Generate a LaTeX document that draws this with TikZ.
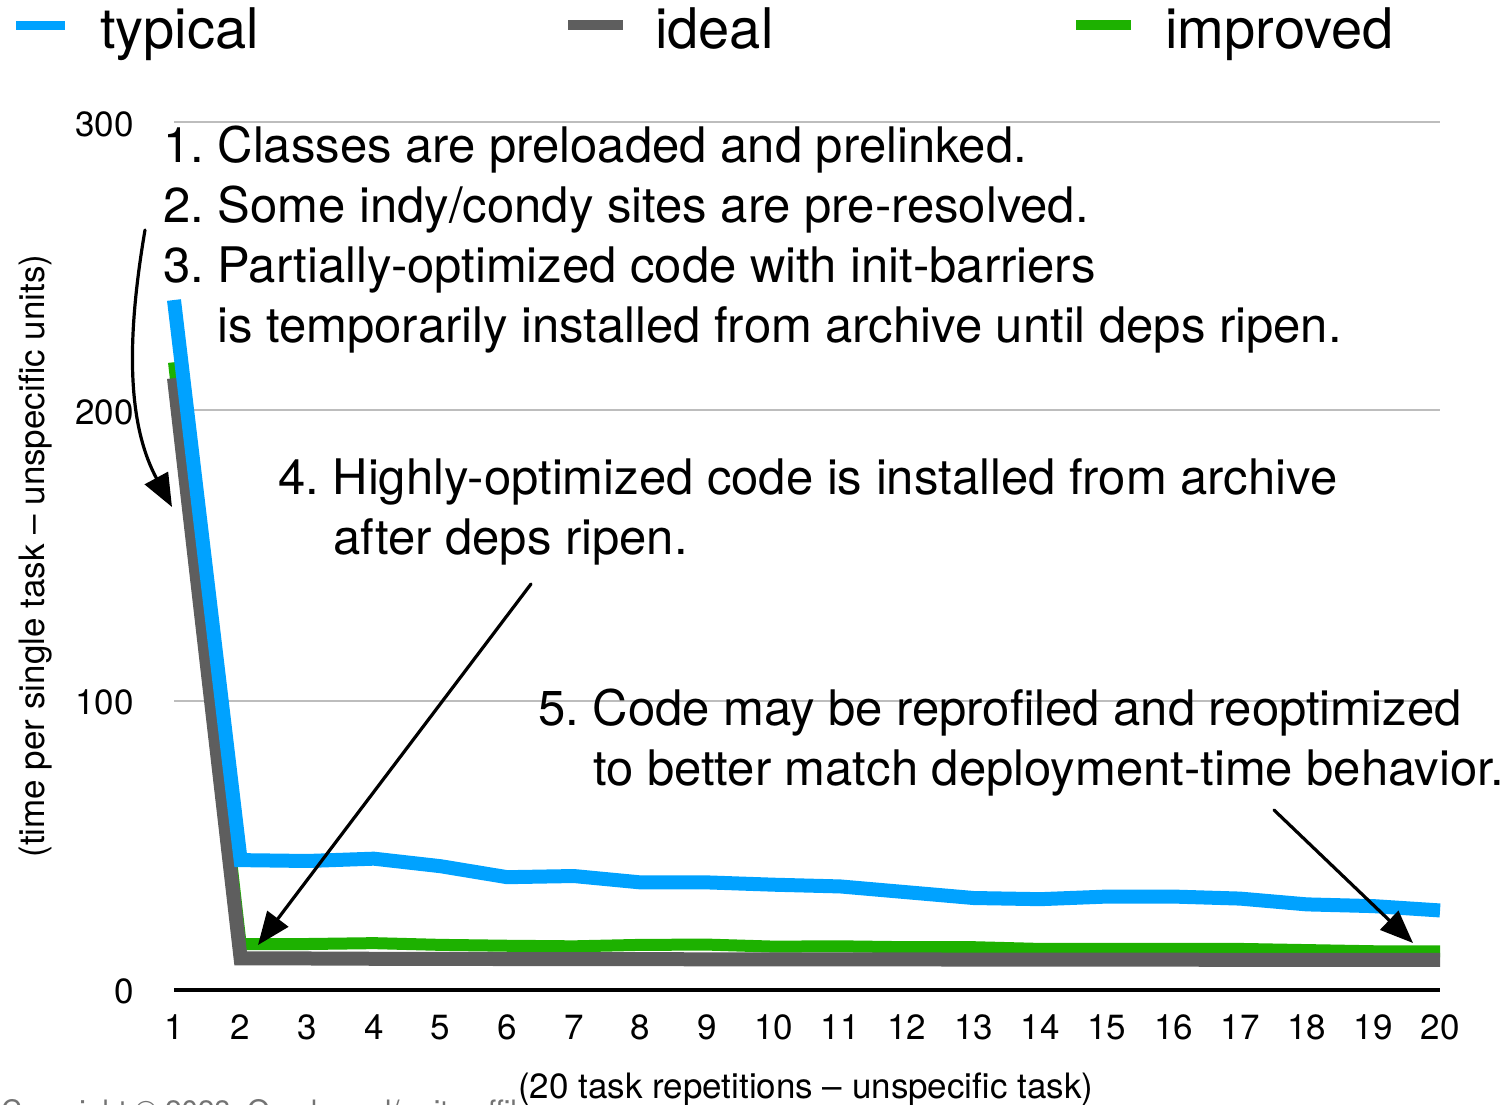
\documentclass[tikz,border=0pt]{standalone}
\usepackage{fontspec}
\setmainfont{TeX Gyre Heros}
\usetikzlibrary{arrows.meta}
\definecolor{typblue}{HTML}{00A2FF}
\definecolor{idealgray}{HTML}{5E5E5E}
\definecolor{impgreen}{HTML}{1DB100}
\definecolor{gridgray}{HTML}{BDBDBD}
\frenchspacing

\begin{document}
\begin{tikzpicture}[x=1pt,y=-1pt,
  legendfont/.style={font=\fontsize{56}{67}\selectfont},
  notefont/.style={font=\fontsize{49}{60}\selectfont},
  axisfont/.style={font=\fontsize{35}{42}\selectfont},
  txt/.style={inner sep=0pt, anchor=base west},
  series/.style={line width=#1, line join=miter, line cap=butt},
  callout/.style={line width=3.2pt, line cap=round, -{Triangle[length=33pt,width=26pt]}},
  gridline/.style={gridgray, line width=1.5pt},
]
\useasboundingbox (0,0) rectangle (1510,1104);

% legend
\fill[typblue]   (16,21) rectangle (65,30);
\fill[idealgray] (568,20) rectangle (623,30);
\fill[impgreen]  (1076,20) rectangle (1131,30);
\node[txt,legendfont] (ltyp) at (100,48) {typical};
\node[txt,legendfont] (lideal) at (655,48) {ideal};
\node[txt,legendfont] (limp) at (1165,48) {improved};

% grid and axis
\draw[gridline] (174,122) -- (1440,122);
\draw[gridline] (174,410) -- (1440,410);
\draw[gridline] (174,701) -- (1440,701);
\draw[line width=4pt] (174,990) -- (1440,990);

% y tick labels
\node[axisfont,inner sep=0pt,anchor=base east] (y300) at (134,136) {300};
\node[axisfont,inner sep=0pt,anchor=base east] (y200) at (134,424) {200};
\node[axisfont,inner sep=0pt,anchor=base east] (y100) at (134,714) {100};
\node[axisfont,inner sep=0pt,anchor=base east] (y0) at (134,1003) {0};

% x tick labels
\foreach \i in {1,...,20}
  \node[axisfont,inner sep=0pt,anchor=base] (xt\i) at ({174+(\i-1)*66.632},1039) {\i};

% axis titles
\node[axisfont,rotate=90,inner sep=0pt] (ytitle) at (36,556) {(time per single task – unspecific units)};
\node[txt,font=\fontsize{29.5}{35}\selectfont,text=black!55] (copy) at (1,1121) {Copyright © 2023, Oracle and/or its affiliates};
\node[txt,axisfont,fill=white,inner xsep=3pt] (xtitle) at (515,1098) {(20 task repetitions – unspecific task)};

% data series
\begin{scope}[shift={(107.368,990)}, x=66.632pt, y=2.893pt]
  \draw[series=12pt, impgreen] plot coordinates {
    (1,217) (2,15.9) (3,15.9) (4,16.2) (5,15.6) (6,15.3) (7,15.1) (8,15.6)
    (9,15.7) (10,15.0) (11,15.1) (12,14.8) (13,14.8) (14,14.2) (15,14.2)
    (16,14.2) (17,14.2) (18,13.8) (19,13.4) (20,13.4)};
  \draw[series=14pt, idealgray] plot coordinates {
    (1,211.5) (2,10.9) (3,10.9) (4,10.8) (5,10.8) (6,10.7) (7,10.7) (8,10.7)
    (9,10.6) (10,10.6) (11,10.6) (12,10.6) (13,10.5) (14,10.5) (15,10.5)
    (16,10.5) (17,10.4) (18,10.4) (19,10.4) (20,10.4)};
  \draw[series=14pt, typblue] plot coordinates {
    (1,238.5) (2,44.9) (3,44.6) (4,45.4) (5,42.8) (6,39.0) (7,39.4) (8,37.2)
    (9,37.2) (10,36.4) (11,35.8) (12,33.8) (13,31.8) (14,31.4) (15,32.3)
    (16,32.3) (17,31.6) (18,29.6) (19,29.0) (20,27.5)};
\end{scope}

% annotations
\node[txt,notefont] (n1) at (163,162) {1. Classes are preloaded and prelinked.};
\node[txt,notefont] (n2) at (163,222) {2. Some indy/condy sites are pre-resolved.};
\node[txt,notefont] (n3) at (163,282) {3. Partially-optimized code with init-barriers};
\node[txt,notefont] (n3b) at (217,342) {is temporarily installed from archive until deps ripen.};
\node[txt,notefont] (n4) at (278,494) {4. Highly-optimized code is installed from archive};
\node[txt,notefont] (n4b) at (333,554) {after deps ripen.};
\node[txt,notefont] (n5) at (538,725) {5. Code may be reprofiled and reoptimized};
\node[txt,notefont] (n5b) at (593,785) {to better match deployment-time behavior.};

% callout arrows
\coordinate (a1s) at (145,230);
\coordinate (a1e) at (172,507);
\coordinate (a2s) at (531,584);
\coordinate (a2e) at (258,945);
\coordinate (a3s) at (1274,810);
\coordinate (a3e) at (1413,943);
\draw[callout] (a1s) .. controls (128,330) and (125,420) .. (a1e);
\draw[callout] (a2s) -- (a2e);
\draw[callout] (a3s) -- (a3e);
\end{tikzpicture}
\end{document}
